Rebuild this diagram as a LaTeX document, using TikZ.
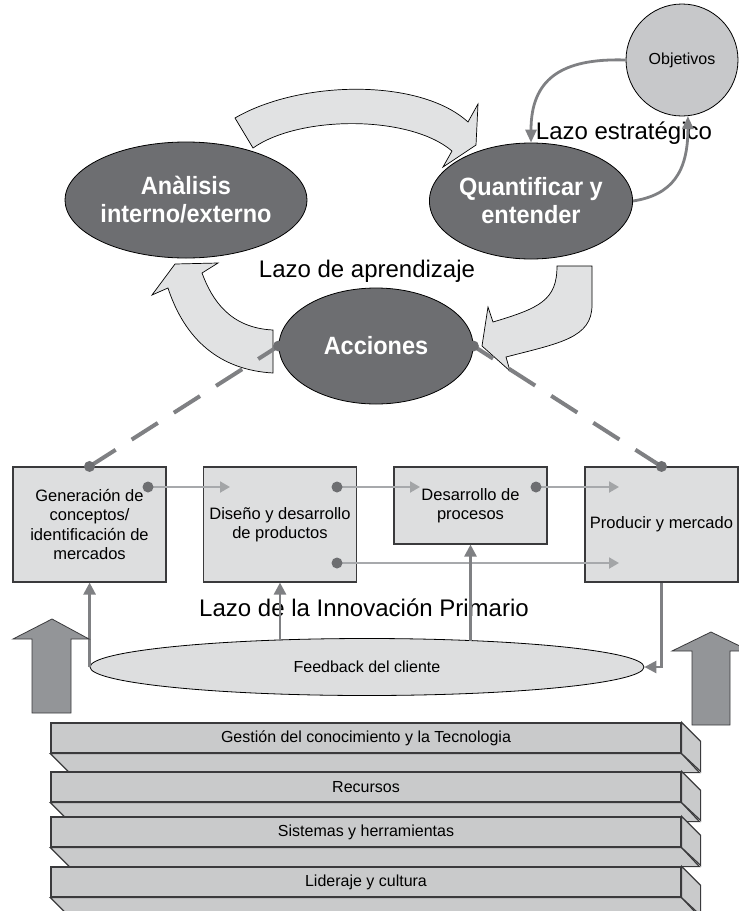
\documentclass[tikz,border=0pt]{standalone}
\usepackage{fontspec}
\setmainfont{Liberation Sans}
\newfontfamily\narrowbold[FakeStretch=0.94]{Liberation Sans Bold}
\usetikzlibrary{shapes.geometric,arrows.meta}

\definecolor{ellipsedark}{HTML}{6D6E71}
\definecolor{blockfill}{HTML}{E1E2E3}
\definecolor{boxfill}{HTML}{DDDEDF}
\definecolor{circfill}{HTML}{C7C8CA}
\definecolor{slabfill}{HTML}{C9CACB}
\definecolor{biggrey}{HTML}{939598}
\definecolor{linegrey}{HTML}{7F8083}
\definecolor{lightline}{HTML}{A7A9AC}
\definecolor{edgedark}{HTML}{3A3A3C}

\begin{document}
\begin{tikzpicture}[x=1pt,y=-1pt,
  darkell/.style={ellipse, draw=black, line width=0.8pt, fill=ellipsedark,
    text=white, font=\narrowbold\fontsize{25}{28}\selectfont, align=center,
    inner sep=0pt, minimum width=194pt, minimum height=116pt},
  goalcirc/.style={circle, draw=black, line width=0.8pt, fill=circfill,
    font=\fontsize{16}{19}\selectfont, inner sep=0pt, minimum size=112pt},
  stage/.style={rectangle, draw=edgedark, line width=1.1pt, fill=boxfill,
    align=center, font=\fontsize{16.5}{19.5}\selectfont, inner sep=0pt,
    minimum width=153pt},
  feedback/.style={ellipse, draw=black, line width=0.8pt, fill=boxfill,
    font=\fontsize{16}{19}\selectfont, inner sep=0pt,
    minimum width=554pt, minimum height=57pt},
  looplabel/.style={font=\fontsize{24}{28}\selectfont, inner sep=0pt},
  blockarrow/.style={fill=blockfill, draw=black, line width=0.7pt, line join=miter},
  bigarrow/.style={fill=biggrey, draw=edgedark, line width=0.8pt, line join=miter},
  slabfront/.style={rectangle, draw=edgedark, line width=1.2pt, fill=slabfill,
    font=\fontsize{16}{19}\selectfont, inner sep=0pt,
    minimum width=630pt, minimum height=30pt},
  slabside/.style={draw=edgedark, line width=1.2pt, fill=slabfill, line join=miter},
  flow/.style={draw=lightline, line width=2pt,
    -{Triangle[length=10pt,width=11pt,color=biggrey!85,fill=biggrey!85]}},
  fbline/.style={draw=linegrey, line width=2.6pt,
    -{Triangle[length=12pt,width=12pt]}},
  stratline/.style={draw=linegrey, line width=2.8pt,
    -{Triangle[length=13pt,width=11pt]}},
  linkdash/.style={draw=linegrey, line width=4pt, dash pattern=on 31pt off 19pt},
  dot/.style={fill=ellipsedark}
]
\useasboundingbox (0,0) rectangle (739,911);
\clip (0,0) rectangle (739,911);

% ---------- learning loop: curved block arrows ----------
\draw[blockarrow] (235,118) .. controls (300,80) and (420,78) .. (468,122)
  -- (478,104) -- (476,145) -- (443,167) -- (452,151)
  .. controls (410,115) and (300,115) .. (253,148) -- cycle;
\draw[blockarrow] (273,330) .. controls (230,328) and (212,300) .. (202,273)
  -- (218,263) -- (175,264) -- (152,295) -- (168,288)
  .. controls (185,340) and (220,370) .. (273,373) -- cycle;
\draw[blockarrow] (557,266) -- (592,266) -- (592,305)
  .. controls (592,338) and (560,343) .. (506,357)
  -- (510,371) -- (482,346) -- (488,307) -- (493,322)
  .. controls (540,308) and (557,300) .. (557,266) -- cycle;

% ---------- loop nodes ----------
\node[darkell] (ana) at (186,200) {Anàlisis\\interno/externo};
\node[darkell] (qua) at (531,201) {Quantificar y\\entender};
\node[darkell] (acc) at (376,346) {Acciones};
\node[goalcirc] (obj) at (682,60) {Objetivos};

\node[looplabel, anchor=base] (lazoE) at (624,139) {Lazo estratégico};
\node[looplabel, anchor=base] (lazoA) at (367,277) {Lazo de aprendizaje};

% strategic loop
\draw[stratline] (obj.west) .. controls (560,58) and (531,80) .. (qua.north);
\draw[stratline] (qua.east) .. controls (672,195) and (688,172) .. (obj.-84);

% ---------- primary innovation loop ----------
\node[stage] (b1) at (89.5,524.5) [minimum height=115pt]
  {Generación de\\conceptos/\\identificación de\\mercados};
\node[stage] (b2) at (280,524.5) [minimum height=115pt]
  {Diseño y desarrollo\\de productos};
\node[stage] (b3) at (470.5,505.5) [minimum height=77pt]
  {Desarrollo de\\procesos};
\node[stage] (b4) at (661.5,524.5) [minimum height=115pt]
  {Producir y mercado};

\coordinate (p1) at (148,487); \coordinate (q1) at (230,487);
\coordinate (p2) at (337,487); \coordinate (q2) at (420,487);
\coordinate (p3) at (536,487); \coordinate (q3) at (619,487);
\coordinate (p4) at (337,563); \coordinate (q4) at (619,563);
\draw[flow] (p1) -- (q1);
\draw[flow] (p2) -- (q2);
\draw[flow] (p3) -- (q3);
\draw[flow] (p4) -- (q4);
\foreach \pp in {p1,p2,p3,p4} \fill[dot] (\pp) circle (5.5pt);

% links from actions to the innovation loop
\draw[linkdash] (b1.north) -- (acc.west);
\draw[linkdash] (b4.north) -- (acc.east);
\foreach \pp in {b1.north,b4.north,acc.west,acc.east} \fill[dot] (\pp) circle (5.5pt);

% customer feedback
\node[looplabel, anchor=base] (lazoI) at (364,616) {Lazo de la Innovación Primario};
\node[feedback] (fb) at (367,667) {Feedback del cliente};
\coordinate (f2) at (280,640.5);
\coordinate (f3) at (470.5,641);
\coordinate (f4) at (661.5,667);
\draw[fbline] (fb.west) -- (fb.west |- b1.south);
\draw[fbline] (f2) -- (b2.south);
\draw[fbline] (f3) -- (b3.south);
\draw[fbline] (b4.south) -- (f4) -- (fb.east);

% ---------- supporting arrows ----------
\draw[bigarrow] (52,619) -- (89,639) -- (71,639) -- (71,713) -- (32,713)
  -- (32,639) -- (13,639) -- cycle;
\draw[bigarrow] (711,632) -- (750,651) -- (730,651) -- (730,725) -- (692,725)
  -- (692,651) -- (672,651) -- cycle;

% ---------- foundation slabs ----------
\foreach \n/\yy/\txt in {1/723/{Gestión del conocimiento y la Tecnologia},
                         2/772/{Recursos},
                         3/817/{Sistemas y herramientas},
                         4/867/{Lideraje y cultura}} {
  \node[slabfront] (slab\n) at (366,\yy+15) {\txt};
  \draw[slabside] (slab\n.south west) -- ++(19,19) -- ++(630,0)
    -- (slab\n.south east) -- cycle;
  \draw[slabside] (slab\n.north east) -- ++(19,19) -- ++(0,30)
    -- (slab\n.south east) -- cycle;
}
\end{tikzpicture}
\end{document}
